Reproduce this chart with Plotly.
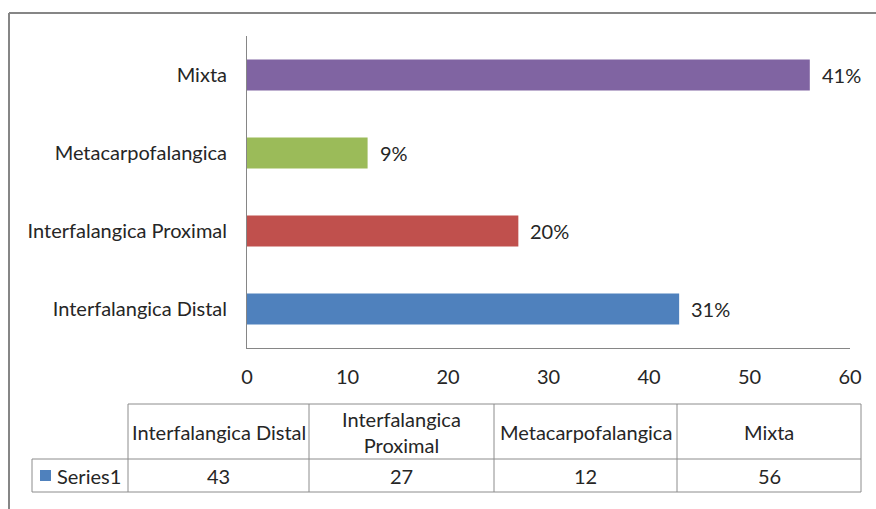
import plotly.graph_objects as go

# Data
categories = ["Interfalangica Distal", "Interfalangica Proximal", "Metacarpofalangica", "Mixta"]
header_labels = ["Interfalangica Distal", "Interfalangica<br>Proximal", "Metacarpofalangica", "Mixta"]
values = [43, 27, 12, 56]
series_name = "Series1"
colors = ["#4F81BD", "#C0504D", "#9BBB59", "#8064A2"]
x_ticks = [0, 10, 20, 30, 40, 50, 60]

W, H = 876, 509
FONT = "Lato"
FS = 20
TXT = "#262626"
GRID = "#868686"


def px(x):
    return x / W


def py(y):
    return 1 - y / H


total = sum(values)
pct_labels = [f"{round(v / total * 100)}%" for v in values]

fig = go.Figure()
fig.add_trace(go.Bar(
    y=categories, x=values, orientation="h",
    marker=dict(color=colors, line=dict(width=0)),
    width=0.4, name=series_name, showlegend=False,
))

annotations = []
# Value labels at the bar ends
for c, v, t in zip(categories, values, pct_labels):
    annotations.append(dict(x=v, y=c, xref="x", yref="y", text=t, showarrow=False,
                            xanchor="left", xshift=10,
                            font=dict(family=FONT, size=FS, color=TXT)))

shapes = []
# Outer chart frame (top and left edges)
shapes.append(dict(type="line", xref="paper", yref="paper", x0=px(9), x1=px(900), y0=py(13), y1=py(13),
                   line=dict(color=GRID, width=2)))
shapes.append(dict(type="line", xref="paper", yref="paper", x0=px(9), x1=px(9), y0=py(13), y1=py(530),
                   line=dict(color=GRID, width=2)))

# Data table below the axis
col_edges = [128, 309, 494, 677, 861]
top, mid, bot = 404, 459, 492
left = 32
tl = dict(color="#8C8C8C", width=1)
shapes.append(dict(type="line", xref="paper", yref="paper", x0=px(col_edges[0]), x1=px(col_edges[-1]),
                   y0=py(top), y1=py(top), line=tl))
for yy in (mid, bot):
    shapes.append(dict(type="line", xref="paper", yref="paper", x0=px(left), x1=px(col_edges[-1]),
                       y0=py(yy), y1=py(yy), line=tl))
shapes.append(dict(type="line", xref="paper", yref="paper", x0=px(left), x1=px(left),
                   y0=py(mid), y1=py(bot), line=tl))
for xe in col_edges:
    shapes.append(dict(type="line", xref="paper", yref="paper", x0=px(xe), x1=px(xe),
                       y0=py(top), y1=py(bot), line=tl))

for i, (lab, v) in enumerate(zip(header_labels, values)):
    cx = (col_edges[i] + col_edges[i + 1]) / 2
    annotations.append(dict(x=px(cx), y=py((top + mid) / 2), xref="paper", yref="paper", text=lab,
                            showarrow=False, xanchor="center", yanchor="middle",
                            font=dict(family=FONT, size=FS, color=TXT)))
    annotations.append(dict(x=px(cx), y=py((mid + bot) / 2), xref="paper", yref="paper", text=str(v),
                            showarrow=False, xanchor="center", yanchor="middle",
                            font=dict(family=FONT, size=FS, color=TXT)))

# Legend key in the table
shapes.append(dict(type="rect", xref="paper", yref="paper", x0=px(40), x1=px(51), y0=py(470), y1=py(481),
                   fillcolor=colors[0], line=dict(width=0)))
annotations.append(dict(x=px(55), y=py((mid + bot) / 2), xref="paper", yref="paper", text=series_name,
                        showarrow=False, xanchor="left", yanchor="middle",
                        font=dict(family=FONT, size=FS, color=TXT)))

fig.update_layout(
    width=W, height=H,
    margin=dict(l=0, r=0, t=0, b=0, autoexpand=False),
    paper_bgcolor="white", plot_bgcolor="white",
    font=dict(family=FONT, size=FS, color=TXT),
    bargap=0.6,
    xaxis=dict(domain=[px(247), px(850)], range=[0, 60], tickvals=x_ticks, automargin=False,
               showgrid=False, zeroline=False, showline=True, linecolor=GRID, linewidth=1,
               ticks="", ticklabelstandoff=11, fixedrange=True),
    yaxis=dict(domain=[py(348), py(36)], categoryorder="array", categoryarray=categories,
               automargin=False,
               showgrid=False, zeroline=False, showline=True, linecolor=GRID, linewidth=1,
               ticks="", ticklabelstandoff=15, fixedrange=True),
    shapes=shapes, annotations=annotations,
)

fig.write_html("out.html")
